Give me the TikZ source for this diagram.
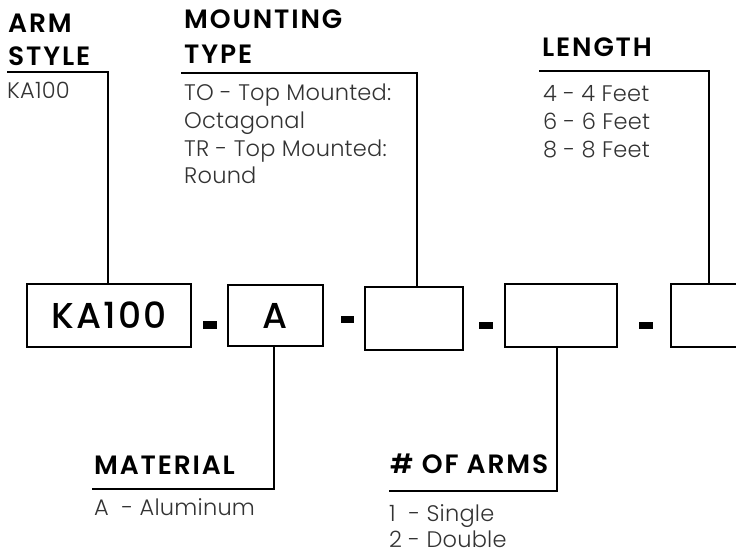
\documentclass[tikz,border=0pt]{standalone}
\usepackage{fontspec}
\setmainfont{Poppins}
\newfontfamily\headfont{Poppins SemiBold}[LetterSpace=7]
\newfontfamily\boxfont{Poppins Medium}[LetterSpace=6]
\newfontfamily\bodyfont{Poppins Light}[LetterSpace=1]
\definecolor{bodygray}{HTML}{333333}
\begin{document}
\begin{tikzpicture}[x=1pt,y=-1pt,
  head/.style={anchor=base west,inner sep=0pt,font=\headfont\fontsize{26.5}{30}\selectfont},
  body/.style={anchor=base west,inner sep=0pt,text=bodygray,font=\bodyfont\fontsize{22.5}{26}\selectfont},
  codebox/.style={draw,line width=1.6pt,inner sep=0pt,font=\boxfont\fontsize{36}{40}\selectfont},
  dashbar/.style={fill=black,draw=none},
  lead/.style={line width=1.6pt}]
\clip (0,0) rectangle (736,550);
\fill[white] (0,0) rectangle (736,550);
% code boxes
\node[codebox,minimum width=164pt,minimum height=63pt] (box1) at (109,315.5) {KA100};
\node[codebox,minimum width=95pt,minimum height=61pt] (box2) at (275.5,315.5) {A};
\node[codebox,minimum width=98pt,minimum height=63pt] (box3) at (414,318.5) {};
\node[codebox,minimum width=112pt,minimum height=63pt] (box4) at (561,315.5) {};
\node[codebox,minimum width=110pt,minimum height=63pt] (box5) at (726,315.5) {};
% dashes
\fill[dashbar] (203,321) rectangle (217,329);
\fill[dashbar] (341,316) rectangle (354,323);
\fill[dashbar] (479,322) rectangle (493,329);
\fill[dashbar] (639,322) rectangle (653,329);
% ARM STYLE
\node[head] (armh1) at (8,32) {ARM};
\node[head] (armh2) at (8,65) {STYLE};
\node[body] (armt1) at (7,98) {KA100};
\coordinate (armL) at (7,72);
\coordinate (armC) at (108,72);
\draw[lead] (armL) -- (armC) -- (armC |- box1.north);
% MOUNTING TYPE
\node[head] (mth1) at (184,28) {MOUNTING};
\node[head] (mth2) at (184,63) {TYPE};
\node[body] (mtt1) at (184,100) {TO - Top Mounted:};
\node[body] (mtt2) at (184,128) {Octagonal};
\node[body] (mtt3) at (184,156) {TR - Top Mounted:};
\node[body] (mtt4) at (184,183) {Round};
\coordinate (mtL) at (181,73);
\coordinate (mtC) at (417,73);
\draw[lead] (mtL) -- (mtC) -- (mtC |- box3.north);
% LENGTH
\node[head] (lnh) at (542,56) {LENGTH};
\node[body] (lnt1) at (543,101) {4 - 4 Feet};
\node[body] (lnt2) at (543,129) {6 - 6 Feet};
\node[body] (lnt3) at (543,157) {8 - 8 Feet};
\coordinate (lnL) at (539,71);
\coordinate (lnC) at (709,71);
\draw[lead] (lnL) -- (lnC) -- (lnC |- box5.north);
% MATERIAL
\node[head] (mah) at (94,474) {MATERIAL};
\node[body] (mat1) at (94,515) {A\ \ - Aluminum};
\coordinate (maL) at (92,489);
\coordinate (maC) at (274,489);
\draw[lead] (maL) -- (maC) -- (maC |- box2.south);
% # OF ARMS
\node[head] (arh) at (390,473) {\# OF ARMS};
\node[body] (art1) at (389,521) {1\ \ - Single};
\node[body] (art2) at (389,547) {2 - Double};
\coordinate (arL) at (389,491);
\coordinate (arC) at (557,491);
\draw[lead] (arL) -- (arC) -- (arC |- box4.south);
\end{tikzpicture}
\end{document}
